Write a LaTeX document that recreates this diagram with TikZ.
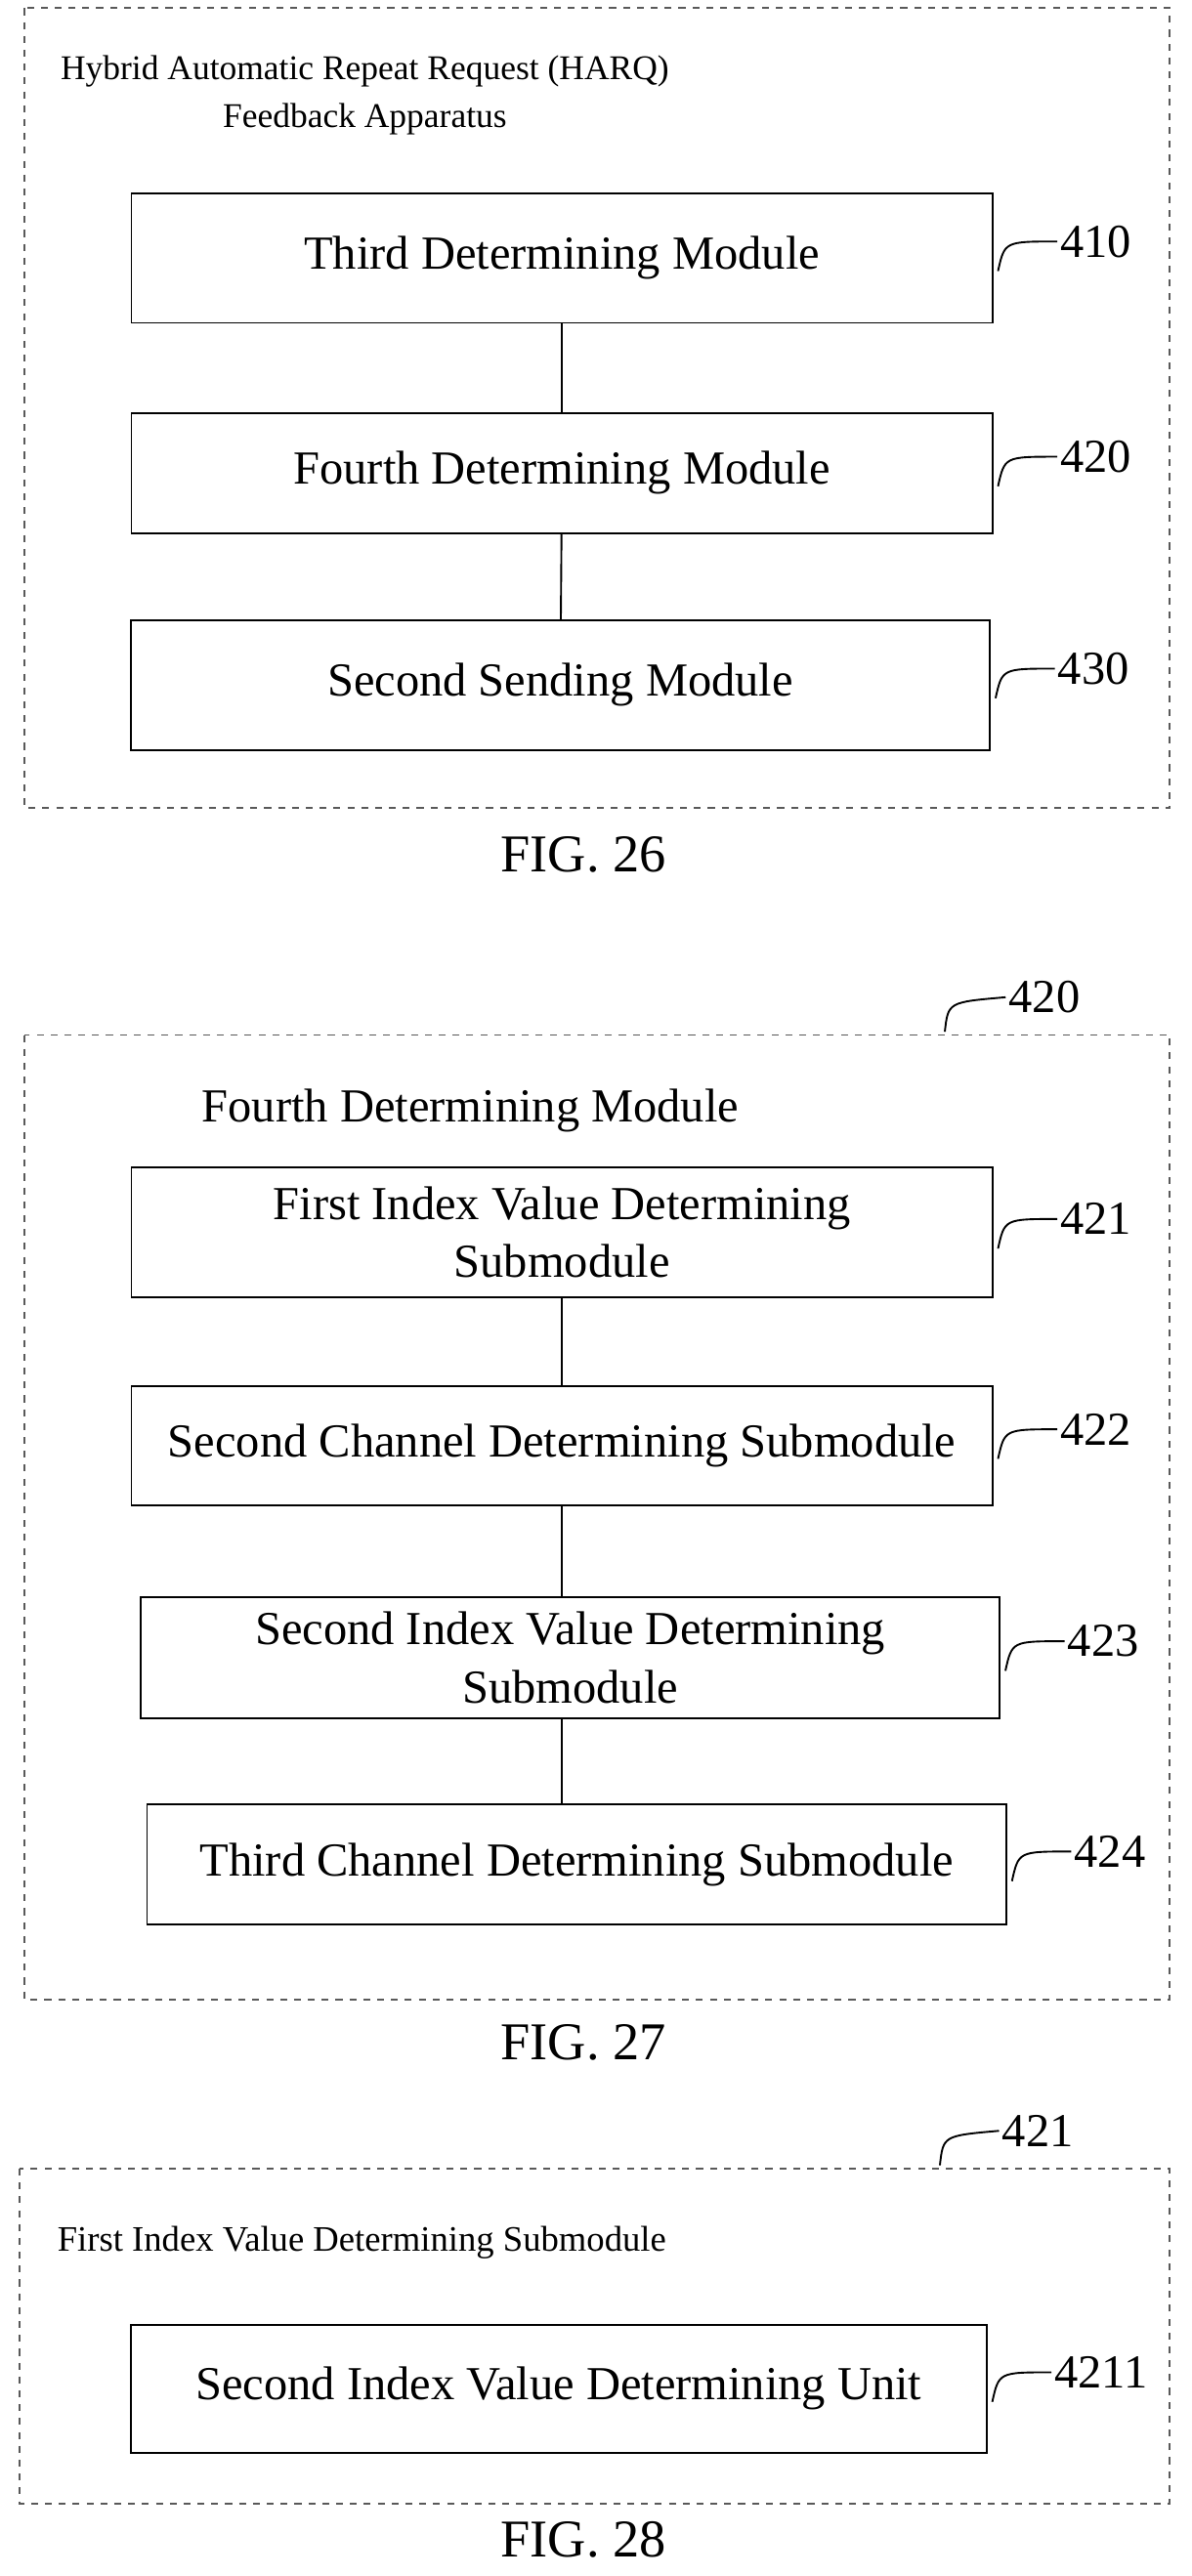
\documentclass[tikz,border=0pt]{standalone}
\usepackage{fontspec}
\setmainfont{Liberation Serif}
\usetikzlibrary{positioning}
\tikzset{
  module/.style={draw, thick, align=center, inner sep=0pt},
  frame/.style={draw, thick, dashed, gray!70!black},
  tag/.style={anchor=west, inner sep=1pt},
  lead/.style={thick},
  caption/.style={font=\fontsize{23}{27}\selectfont}
}
\begin{document}
\begin{tikzpicture}[x=0.025cm, y=-0.025cm, font=\fontsize{20.5}{25}\selectfont]
  \useasboundingbox (0,0) rectangle (725,1568);

  % FIG. 26
  \draw[frame] (15,5) rectangle (712,492);
  \node[align=center, font=\fontsize{15}{21}\selectfont] (t26) at (222,58) {Hybrid Automatic Repeat Request (HARQ)\\Feedback Apparatus};
  \node[module, minimum width=524*0.025cm, minimum height=79*0.025cm] (m410) at (342,157) {Third Determining Module};
  \node[module, minimum width=524*0.025cm, minimum height=73*0.025cm] (m420) at (342,288) {Fourth Determining Module};
  \node[module, minimum width=523*0.025cm, minimum height=79*0.025cm] (m430) at (341,417) {Second Sending Module};
  \draw[lead] (m410) -- (m420);
  \draw[lead] (m420) -- (m430);
  \foreach \m/\y/\t in {m410/165/410, m420/296/420, m430/425/430} {
    \coordinate (c\t) at ([xshift=2]\m.east |- 0,\y);
    \draw[lead] (c\t) .. controls ([xshift=0.1cm, yshift=0.45cm]c\t) .. ([xshift=0.9cm, yshift=0.45cm]c\t) node[tag] (l\t) {\t};
  }
  \node[caption] (f26) at (355,520) {FIG. 26};

  % FIG. 27
  \draw[frame] (15,630) rectangle (712,1217);
  \coordinate (c420b) at (575,628);
  \draw[lead] (c420b) .. controls (577,610) .. (612,607) node[tag] (l420b) {420};
  \node[anchor=west] (t27) at (118,676) {Fourth Determining Module};
  \node[module, minimum width=524*0.025cm, minimum height=79*0.025cm] (m421) at (342,750) {First Index Value Determining\\Submodule};
  \node[module, minimum width=524*0.025cm, minimum height=73*0.025cm] (m422) at (342,880) {Second Channel Determining Submodule};
  \node[module, minimum width=523*0.025cm, minimum height=74*0.025cm] (m423) at (347,1009) {Second Index Value Determining\\Submodule};
  \node[module, minimum width=523*0.025cm, minimum height=73*0.025cm] (m424) at (351,1135) {Third Channel Determining Submodule};
  \draw[lead] (m421) -- (m422);
  \draw[lead] (m422) -- (m423.north -| m422);
  \draw[lead] (m423.south -| m422) -- (m424.north -| m422);
  \foreach \m/\y/\t in {m421/760/421, m422/888/422, m423/1017/423, m424/1145/424} {
    \coordinate (c\t) at ([xshift=2]\m.east |- 0,\y);
    \draw[lead] (c\t) .. controls ([xshift=0.1cm, yshift=0.45cm]c\t) .. ([xshift=0.9cm, yshift=0.45cm]c\t) node[tag] (l\t) {\t};
  }
  \node[caption] (f27) at (355,1243) {FIG. 27};

  % FIG. 28
  \draw[frame] (12,1320) rectangle (712,1524);
  \coordinate (c421b) at (572,1318);
  \draw[lead] (c421b) .. controls (574,1300) .. (608,1297) node[tag] (l421b) {421};
  \node[anchor=west, font=\fontsize{15.5}{20}\selectfont] (t28) at (30,1365) {First Index Value Determining Submodule};
  \node[module, minimum width=521*0.025cm, minimum height=78*0.025cm] (m4211) at (340,1454) {Second Index Value Determining Unit};
  \coordinate (c4211) at ([xshift=2]m4211.east |- 0,1462);
  \draw[lead] (c4211) .. controls ([xshift=0.1cm, yshift=0.45cm]c4211) .. ([xshift=0.9cm, yshift=0.45cm]c4211) node[tag] (l4211) {4211};
  \node[caption] (f28) at (355,1546) {FIG. 28};
\end{tikzpicture}
\end{document}
